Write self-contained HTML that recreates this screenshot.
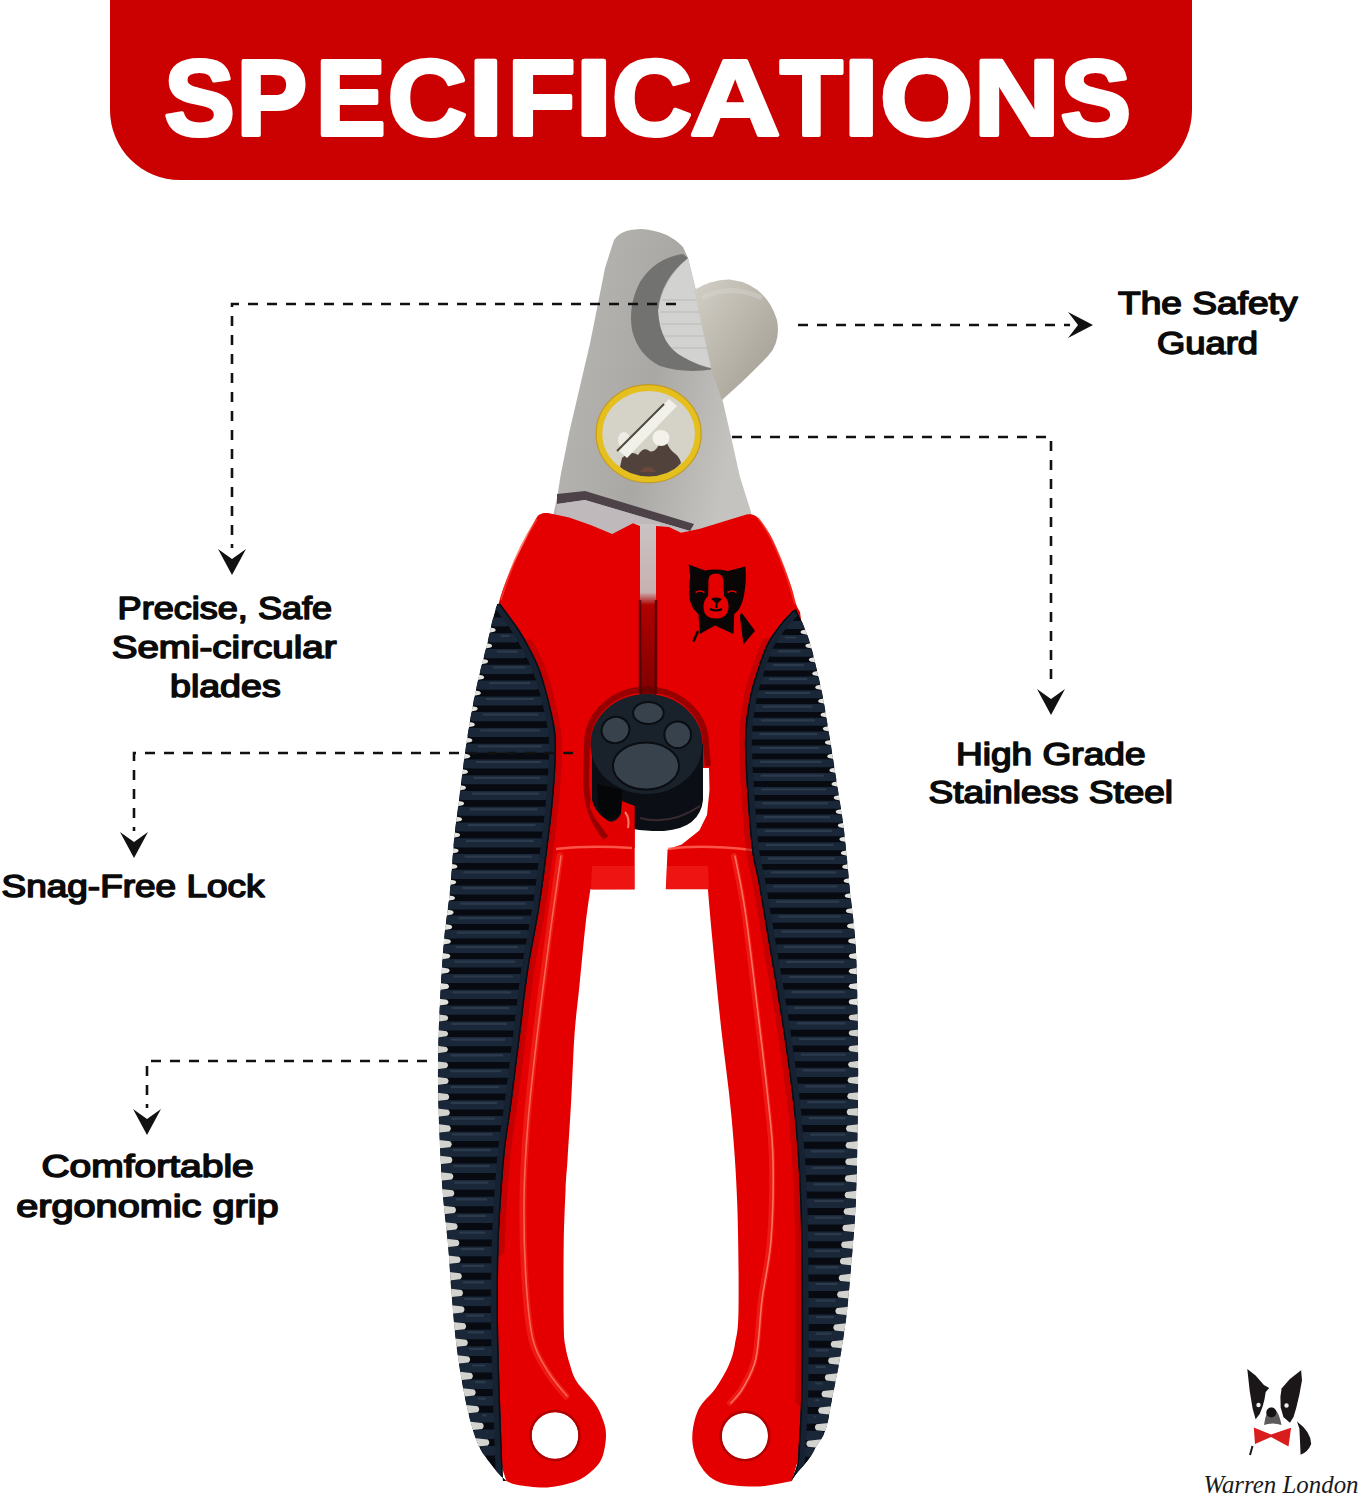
<!DOCTYPE html>
<html><head><meta charset="utf-8">
<style>
html,body{margin:0;padding:0;background:#fff;width:1361px;height:1500px;overflow:hidden}
svg{display:block}
.lb{font-family:"Liberation Sans",sans-serif;font-weight:normal;font-size:30.5px;fill:#0b0b0b;stroke:#0b0b0b;stroke-width:1.5px;stroke-linejoin:round}
</style></head>
<body>
<svg width="1361" height="1500" viewBox="0 0 1361 1500">
<defs>
  <marker id="ah" viewBox="0 0 30 28" refX="29" refY="14" markerWidth="30" markerHeight="28" markerUnits="userSpaceOnUse" orient="auto">
    <path d="M0,0 L30,14 L0,28 L8,14 Z" fill="#111"/>
  </marker>
</defs>
<rect width="1361" height="1500" fill="#fff"/>
<!-- banner -->
<path d="M110,0 H1192 V110 A70,70 0 0 1 1122,180 H180 A70,70 0 0 1 110,110 Z" fill="#cb0000"/>
<g font-family="Liberation Sans, sans-serif" font-weight="bold" font-size="107.5" fill="#fff" stroke="#fff" stroke-width="4" stroke-linejoin="round">
<text lengthAdjust="spacingAndGlyphs" x="164.3" y="135.2" textLength="70.5">S</text>
<text lengthAdjust="spacingAndGlyphs" x="236.4" y="135.2" textLength="70.6">P</text>
<text lengthAdjust="spacingAndGlyphs" x="315.8" y="135.2" textLength="69.9">E</text>
<text lengthAdjust="spacingAndGlyphs" x="387.7" y="135.2" textLength="79.3">C</text>
<text lengthAdjust="spacingAndGlyphs" x="468.6" y="135.2" textLength="34.7">I</text>
<text lengthAdjust="spacingAndGlyphs" x="507.5" y="135.2" textLength="68.0">F</text>
<text lengthAdjust="spacingAndGlyphs" x="575.1" y="135.2" textLength="37.6">I</text>
<text lengthAdjust="spacingAndGlyphs" x="612.0" y="135.2" textLength="80.1">C</text>
<text lengthAdjust="spacingAndGlyphs" x="689.9" y="135.2" textLength="90.4">A</text>
<text lengthAdjust="spacingAndGlyphs" x="779.9" y="135.2" textLength="62.7">T</text>
<text lengthAdjust="spacingAndGlyphs" x="843.3" y="135.2" textLength="35.9">I</text>
<text lengthAdjust="spacingAndGlyphs" x="880.1" y="135.2" textLength="93.3">O</text>
<text lengthAdjust="spacingAndGlyphs" x="973.7" y="135.2" textLength="86.0">N</text>
<text lengthAdjust="spacingAndGlyphs" x="1060.6" y="135.2" textLength="70.5">S</text>
</g>

<!-- labels -->
<g class="lb">
  <text x="1118" y="314.4" textLength="179.5" lengthAdjust="spacingAndGlyphs">The Safety</text>
  <text x="1157" y="354.4" textLength="101" lengthAdjust="spacingAndGlyphs">Guard</text>
  <text x="956" y="764.9" textLength="189.5" lengthAdjust="spacingAndGlyphs">High Grade</text>
  <text x="928.5" y="803.4" textLength="244.5" lengthAdjust="spacingAndGlyphs">Stainless Steel</text>
  <text x="117.6" y="619.1" textLength="214.5" lengthAdjust="spacingAndGlyphs">Precise, Safe</text>
  <text x="111.7" y="658.4" textLength="224.8" lengthAdjust="spacingAndGlyphs">Semi-circular</text>
  <text x="170" y="697.4" textLength="110.7" lengthAdjust="spacingAndGlyphs">blades</text>
  <text x="1.5" y="897.4" textLength="263" lengthAdjust="spacingAndGlyphs">Snag-Free Lock</text>
  <text x="41.4" y="1177.2" textLength="212.4" lengthAdjust="spacingAndGlyphs">Comfortable</text>
  <text x="16.2" y="1216.9" textLength="262.5" lengthAdjust="spacingAndGlyphs">ergonomic grip</text>
</g>


<defs>
  <linearGradient id="steel" x1="0" y1="0" x2="1" y2="0.3">
    <stop offset="0" stop-color="#8f8e8a"/><stop offset="0.25" stop-color="#b3b2ae"/><stop offset="0.6" stop-color="#a9a8a4"/><stop offset="1" stop-color="#c4c3bf"/>
  </linearGradient>
  <linearGradient id="guard" x1="0" y1="0" x2="1" y2="1">
    <stop offset="0" stop-color="#d2cfc6"/><stop offset="0.5" stop-color="#b9b5ab"/><stop offset="1" stop-color="#9d998f"/>
  </linearGradient>
  <radialGradient id="dome" cx="0.5" cy="0.6" r="0.6">
    <stop offset="0" stop-color="#5a4f45"/><stop offset="0.35" stop-color="#b8b2a6"/><stop offset="0.7" stop-color="#e8e6e0"/><stop offset="1" stop-color="#9a958b"/>
  </radialGradient>
  <linearGradient id="redL" x1="0" y1="0" x2="1" y2="0">
    <stop offset="0" stop-color="#e40000"/><stop offset="1" stop-color="#e40000"/>
  </linearGradient>
  <linearGradient id="slot" x1="0" y1="0" x2="0" y2="1">
    <stop offset="0" stop-color="#c9c3c3"/><stop offset="0.38" stop-color="#c8b0b0"/><stop offset="0.45" stop-color="#b00000"/><stop offset="1" stop-color="#7a0000"/>
  </linearGradient>
  <clipPath id="lgc"><path d="M497.0,604.0 C496.2,607.0 493.5,616.0 492.0,622.0 C490.5,628.0 490.3,630.3 488.0,640.0 C485.7,649.7 481.0,666.7 478.0,680.0 C475.0,693.3 472.3,706.7 470.0,720.0 C467.7,733.3 465.8,746.7 464.0,760.0 C462.2,773.3 460.7,786.7 459.0,800.0 C457.3,813.3 455.5,825.0 454.0,840.0 C452.5,855.0 451.7,873.3 450.0,890.0 C448.3,906.7 445.7,921.7 444.0,940.0 C442.3,958.3 441.0,980.0 440.0,1000.0 C439.0,1020.0 438.2,1040.8 438.0,1060.0 C437.8,1079.2 438.0,1093.5 438.7,1115.0 C439.4,1136.5 440.8,1167.3 442.4,1189.0 C443.9,1210.7 446.4,1226.5 448.0,1245.0 C449.6,1263.5 450.5,1282.5 452.0,1300.0 C453.5,1317.5 454.7,1332.8 457.0,1350.0 C459.3,1367.2 462.9,1388.3 466.0,1403.0 C469.1,1417.7 472.5,1429.3 475.5,1438.0 C478.5,1446.7 480.2,1449.2 484.0,1455.0 C487.8,1460.8 494.2,1468.7 498.0,1473.0 C501.8,1477.3 505.1,1479.7 506.5,1481.0 L503.0,1481.0 C502.5,1467.5 500.8,1426.8 500.0,1400.0 C499.2,1373.2 498.2,1345.0 498.0,1320.0 C497.8,1295.0 498.0,1270.0 498.5,1250.0 C499.0,1230.0 499.9,1216.7 501.0,1200.0 C502.1,1183.3 503.2,1166.7 505.0,1150.0 C506.8,1133.3 509.5,1119.0 512.0,1100.0 C514.5,1081.0 517.3,1057.3 520.0,1036.0 C522.7,1014.7 524.8,993.0 528.0,972.0 C531.2,951.0 536.0,928.7 539.0,910.0 C542.0,891.3 543.7,878.3 546.0,860.0 C548.3,841.7 551.3,819.2 553.0,800.0 C554.7,780.8 556.2,759.3 556.0,745.0 C555.8,730.7 554.6,726.2 552.0,714.0 C549.4,701.8 544.5,683.2 540.5,671.7 C536.5,660.2 532.0,652.7 528.0,645.0 C524.0,637.3 521.0,632.5 516.3,625.6 C511.6,618.7 502.7,607.2 500.0,603.5 Z"/></clipPath><clipPath id="rgc"><path d="M796.0,608.8 C797.3,611.7 801.6,620.5 804.0,626.4 C806.4,632.3 808.3,636.8 810.4,644.0 C812.5,651.2 814.7,660.5 816.8,669.6 C818.9,678.7 821.1,687.2 823.2,698.4 C825.3,709.6 827.1,721.5 829.6,736.8 C832.1,752.1 835.6,774.5 838.0,790.0 C840.4,805.5 842.0,813.3 844.0,830.0 C846.0,846.7 848.0,870.0 850.0,890.0 C852.0,910.0 854.7,925.0 856.0,950.0 C857.3,975.0 857.7,1015.0 858.0,1040.0 C858.3,1065.0 858.3,1073.3 858.0,1100.0 C857.7,1126.7 857.3,1170.0 856.0,1200.0 C854.7,1230.0 851.7,1260.0 850.0,1280.0 C848.3,1300.0 847.7,1306.7 846.0,1320.0 C844.3,1333.3 842.0,1347.5 839.8,1360.0 C837.6,1372.5 835.2,1383.2 832.9,1394.7 C830.6,1406.2 828.8,1420.3 826.0,1429.0 C823.2,1437.7 819.3,1441.5 816.4,1446.6 C813.5,1451.7 811.8,1455.3 808.6,1459.7 C805.4,1464.1 800.1,1469.2 797.3,1472.7 C794.4,1476.2 792.5,1479.2 791.5,1480.5 L791.5,1480.5 C792.5,1477.8 796.0,1470.8 797.3,1464.0 C798.5,1457.2 798.4,1450.7 799.0,1440.0 C799.6,1429.3 800.5,1420.0 801.0,1400.0 C801.5,1380.0 801.8,1352.9 801.7,1320.0 C801.6,1287.1 801.5,1236.9 800.3,1202.7 C799.1,1168.5 797.3,1144.0 794.4,1114.7 C791.5,1085.4 787.1,1056.0 782.7,1026.7 C778.3,997.4 772.1,963.2 768.0,938.7 C763.9,914.2 760.7,894.8 758.0,880.0 C755.3,865.2 753.8,865.0 752.0,850.0 C750.2,835.0 748.2,808.8 747.0,790.0 C745.8,771.2 744.6,752.3 745.0,737.0 C745.4,721.7 747.5,709.6 749.6,698.4 C751.7,687.2 754.7,678.7 757.6,669.6 C760.5,660.5 763.5,651.5 767.2,644.0 C770.9,636.5 775.7,630.4 780.0,624.8 C784.3,619.2 790.7,612.8 792.8,610.4 Z"/></clipPath>
</defs>
<g id="clipper">
  <!-- steel blade -->
  <path d="M614,240 Q621,229 642,229 Q668,231 683,247 L688,258 L716,372 L731.2,437.6 L739.7,476 L751,512 L756,540 L548,540 L557.6,495 L560.5,476 L569.3,432 L579.6,388 L589.9,344 L598.7,300 L605,268 Z" fill="url(#steel)"/>
  <path d="M688,258 Q662,280 658,311 Q660,345 683,357 Q700,366 714,368 Z" fill="#d2d2d0"/>
  <g stroke="#b9b9b7" stroke-width="1.2">
    <path d="M662,300 H700"/><path d="M660,312 H703"/><path d="M661,324 H706"/><path d="M664,336 H709"/><path d="M672,348 H712"/>
  </g>
  <path d="M683,254 Q655,258 640,282 Q628,305 632,330 Q638,355 660,366 Q685,374 714,369 Q698,366 683,357 Q660,345 658,311 Q660,280 688,258 Z" fill="#727271"/>
  <!-- safety guard -->
  <path d="M694,290 Q712,279 730,279.5 Q766,284 777,320 Q781,342 768,356 Q745,380 722,400 L712,372 Z" fill="url(#guard)"/>
  <path d="M702,298 Q730,283 762,298" stroke="#dcdad4" stroke-width="5" fill="none" opacity="0.35"/>
  <!-- screw -->
  <ellipse cx="648.6" cy="433.7" rx="49.5" ry="46" fill="#d5d2c8"/>
  <path d="M622,458 Q631,450 638,455 Q643,447 648,450 Q652,454 657,448 Q662,440 664,434 Q667,447 673,452 Q680,457 681,463 Q668,478 648,479 Q629,477 620,467 Z" fill="#3a2a22" opacity="0.85"/>
  <path d="M640,472 Q648,462 656,472 Z" fill="#7a4a3a" opacity="0.7"/>
  <ellipse cx="661" cy="438" rx="8.5" ry="8" fill="#f3f1ea"/>
  <ellipse cx="624" cy="440" rx="6" ry="8" fill="#ecebe4"/>
  <path d="M669,399 L677,406 L627,458 L619,451 Z" fill="#f1f0e9"/>
  <path d="M664,404 L617,451" stroke="#4e493c" stroke-width="2"/>
  <ellipse cx="648.6" cy="433.7" rx="49.5" ry="46" fill="none" stroke="#e4bf1e" stroke-width="6.5"/>
  <ellipse cx="648.6" cy="433.7" rx="52.5" ry="49" fill="none" stroke="#b98e18" stroke-width="1.2" opacity="0.7"/>
  <!-- blade lower dark edge -->
  <path d="M557,494 L585,491 L694,524 L690,531 L585,500 L557,504 Z" fill="#4d4247"/>
  <path d="M557,504 L585,500 L690,531 L660,545 L552,545 Z" fill="#bfb9bb"/>
  <!-- slot -->
  <rect x="636" y="524" width="24" height="180" fill="url(#slot)"/>
  <!-- red handles -->
  <path d="M498.7,603.5 C499.4,601.1 500.8,595.2 503.0,589.2 C505.2,583.2 508.6,574.6 511.9,567.2 C515.2,559.8 518.9,553.1 522.9,545.0 C526.9,536.9 532.9,523.9 536.0,518.7 C539.1,513.5 539.6,514.7 541.6,513.7 C543.6,512.8 546.9,513.1 548.0,513.0 L569.2,517.6 L591.2,525.3 L612.2,534.0 L633.0,523.3 L640.0,526.0 L640.0,700.0 L650.0,700.0 L650.0,807.0 L634.7,807.0 L634.7,889.5 L592.0,889.5 L590.4,889.0 C589.6,894.8 587.5,907.5 585.6,924.0 C583.7,940.5 581.1,969.3 579.2,988.0 C577.3,1006.7 575.7,1017.3 574.4,1036.0 C573.1,1054.7 572.4,1079.3 571.2,1100.0 C570.1,1120.7 568.4,1145.2 567.5,1160.0 C566.6,1174.8 566.2,1174.8 565.6,1189.0 C565.0,1203.2 564.0,1223.2 563.7,1245.0 C563.4,1266.8 563.5,1303.5 563.7,1320.0 C563.9,1336.5 564.0,1336.5 565.0,1344.0 C566.0,1351.5 568.0,1358.7 570.0,1365.0 C572.0,1371.3 572.9,1375.7 577.0,1382.0 C581.1,1388.3 590.3,1396.7 594.6,1403.0 C598.9,1409.3 601.1,1414.7 603.0,1420.0 C604.9,1425.3 606.0,1429.2 606.0,1435.0 C606.0,1440.8 604.8,1449.5 603.0,1455.0 C601.2,1460.5 599.3,1463.7 595.0,1468.0 C590.7,1472.3 584.9,1477.5 577.0,1480.7 C569.1,1483.9 557.4,1486.7 547.6,1487.4 C537.8,1488.1 524.9,1486.1 518.0,1485.0 C511.1,1483.9 508.3,1481.7 506.4,1481.0 L480,1400 L470,1000 L480,700 Z" fill="url(#redL)"/>
  <path d="M656.0,526.0 L669.0,527.0 L681.0,532.7 L700.0,528.7 L746.4,514.4 L746.4,514.4 C747.3,514.4 750.1,514.0 752.0,514.5 C753.9,515.0 755.4,515.5 757.6,517.6 C759.8,519.7 762.6,523.5 765.0,527.0 C767.4,530.5 769.2,532.8 772.0,538.4 C774.8,544.0 778.4,552.8 781.6,560.8 C784.8,568.8 788.8,579.2 791.2,586.4 C793.6,593.6 794.5,599.7 796.0,604.0 C797.5,608.3 799.3,610.7 800.0,612.0 L812,700 L835,1000 L815,1400 L792.0,1481.0 C785.9,1481.9 767.7,1486.4 755.5,1486.6 C743.3,1486.8 728.0,1485.6 718.8,1482.0 C709.5,1478.4 704.4,1472.1 700.0,1465.0 C695.6,1457.9 692.6,1448.8 692.3,1439.6 C692.0,1430.4 694.3,1418.6 698.2,1410.0 C702.1,1401.4 710.7,1395.5 715.8,1388.0 C720.9,1380.5 725.8,1372.0 729.0,1364.7 C732.2,1357.4 733.4,1353.1 735.0,1344.0 C736.6,1334.9 738.1,1333.5 738.5,1310.0 C738.9,1286.5 738.4,1235.2 737.2,1202.7 C736.0,1170.2 734.0,1144.0 731.3,1114.7 C728.6,1085.4 724.2,1056.0 721.0,1026.7 C717.8,997.4 714.5,961.6 712.3,938.7 C710.1,915.8 708.6,897.5 707.9,889.3 L665.8,889.3 L667.6,849.3 L681.7,844.6 L699.3,830.5 L707.0,815.0 L709.5,790.0 L709.0,768.0 L656.0,768.0 L656.0,700.0 Z" fill="#e40000"/>
  <!-- holes -->
  <circle cx="555" cy="1435.5" r="23.5" fill="#fff"/>
  <circle cx="744.9" cy="1436" r="23.3" fill="#fff"/>



  <path d="M501,600 C508,575 520,545 537,519" stroke="#ff4030" stroke-width="2" fill="none" opacity="0.7"/>
  <path d="M758,518 C772,536 785,566 795,604" stroke="#ff4030" stroke-width="2" fill="none" opacity="0.6"/>
  <path d="M640,600 L640,694 M656,600 L656,694" stroke="#300000" stroke-width="2.5" opacity="0.7"/>
  <!-- feet shading -->
  <path d="M556,849 Q590,845 632,848" stroke="#ff6a5a" stroke-width="2.5" fill="none" opacity="0.8"/>
  <path d="M592,866 L634,866 L634.5,889 L591,889.5 Z" fill="#ff3a30" opacity="0.35"/>
  <path d="M668,849 Q700,844 752,850" stroke="#ff6a5a" stroke-width="2.5" fill="none" opacity="0.8"/>
  <path d="M667,866 L708,866 L709,889 L666,889 Z" fill="#ff3a30" opacity="0.35"/>
  <!-- arm highlights -->
  <g fill="none" stroke-linecap="round">
    <path d="M560.0,856.0 C558.2,869.0 552.8,905.3 549.0,934.0 C545.2,962.7 540.7,996.7 537.0,1028.0 C533.3,1059.3 529.3,1093.3 527.0,1122.0 C524.7,1150.7 523.3,1173.7 523.0,1200.0 C522.7,1226.3 523.5,1256.7 525.0,1280.0 C526.5,1303.3 528.2,1324.5 532.0,1340.0 C535.8,1355.5 542.3,1363.7 548.0,1373.0 C553.7,1382.3 563.0,1392.2 566.0,1396.0" stroke="#ff4a3a" stroke-width="7" opacity="0.35"/>
    <path d="M561.0,856.0 C559.2,869.0 553.8,905.3 550.0,934.0 C546.2,962.7 541.7,996.7 538.0,1028.0 C534.3,1059.3 530.3,1093.3 528.0,1122.0 C525.7,1150.7 524.3,1173.7 524.0,1200.0 C523.7,1226.3 524.5,1256.7 526.0,1280.0 C527.5,1303.3 529.2,1324.5 533.0,1340.0 C536.8,1355.5 543.3,1363.7 549.0,1373.0 C554.7,1382.3 564.0,1392.2 567.0,1396.0" stroke="#ff7060" stroke-width="1.6" opacity="0.85"/>
    <path d="M734.0,856.0 C735.7,865.0 740.3,885.2 744.0,910.0 C747.7,934.8 752.2,973.5 756.0,1005.0 C759.8,1036.5 764.3,1073.2 767.0,1099.0 C769.7,1124.8 771.5,1136.5 772.0,1160.0 C772.5,1183.5 771.8,1216.7 770.0,1240.0 C768.2,1263.3 763.5,1280.3 761.0,1300.0 C758.5,1319.7 758.2,1343.3 755.0,1358.0 C751.8,1372.7 746.2,1380.5 742.0,1388.0 C737.8,1395.5 732.0,1400.5 730.0,1403.0" stroke="#ff4a3a" stroke-width="6" opacity="0.35"/>
    <path d="M735.0,856.0 C736.7,865.0 741.3,885.2 745.0,910.0 C748.7,934.8 753.2,973.5 757.0,1005.0 C760.8,1036.5 765.3,1073.2 768.0,1099.0 C770.7,1124.8 772.5,1136.5 773.0,1160.0 C773.5,1183.5 772.8,1216.7 771.0,1240.0 C769.2,1263.3 764.5,1280.3 762.0,1300.0 C759.5,1319.7 759.2,1343.3 756.0,1358.0 C752.8,1372.7 747.2,1380.5 743.0,1388.0 C738.8,1395.5 733.0,1400.5 731.0,1403.0" stroke="#ff8070" stroke-width="1.6" opacity="0.85"/>
  </g>
  <circle cx="555" cy="1435.5" r="24.5" fill="none" stroke="#b00000" stroke-width="2.5"/>
  <circle cx="744.9" cy="1436" r="24.3" fill="none" stroke="#b00000" stroke-width="2.5"/>
  <path d="M528.0,645.0 C530.1,649.5 536.5,660.2 540.5,671.7 C544.5,683.2 549.4,701.8 552.0,714.0 C554.6,726.2 555.8,730.7 556.0,745.0 C556.2,759.3 554.7,780.8 553.0,800.0 C551.3,819.2 548.3,841.7 546.0,860.0 C543.7,878.3 542.0,891.3 539.0,910.0 C536.0,928.7 531.2,951.0 528.0,972.0 C524.8,993.0 522.7,1014.7 520.0,1036.0 C517.3,1057.3 514.5,1081.0 512.0,1100.0 C509.5,1119.0 506.8,1133.3 505.0,1150.0 C503.2,1166.7 502.1,1183.3 501.0,1200.0 C499.9,1216.7 498.9,1241.7 498.5,1250.0" fill="none" stroke="#a00000" stroke-width="12" opacity="0.45" stroke-linecap="round"/>
  <path d="M767.2,644.0 C765.6,648.3 760.5,660.5 757.6,669.6 C754.7,678.7 751.7,687.2 749.6,698.4 C747.5,709.6 745.4,721.7 745.0,737.0 C744.6,752.3 745.8,771.2 747.0,790.0 C748.2,808.8 750.2,835.0 752.0,850.0 C753.8,865.0 755.3,865.2 758.0,880.0 C760.7,894.8 763.9,914.2 768.0,938.7 C772.1,963.2 778.3,997.4 782.7,1026.7 C787.1,1056.0 791.5,1085.4 794.4,1114.7 C797.3,1144.0 799.1,1168.5 800.3,1202.7 C801.5,1236.9 801.6,1287.1 801.7,1320.0 C801.8,1352.9 801.1,1386.7 801.0,1400.0" fill="none" stroke="#a00000" stroke-width="12" opacity="0.45" stroke-linecap="round"/>
  <g clip-path="url(#lgc)"><path d="M497.0,604.0 C496.2,607.0 493.5,616.0 492.0,622.0 C490.5,628.0 490.3,630.3 488.0,640.0 C485.7,649.7 481.0,666.7 478.0,680.0 C475.0,693.3 472.3,706.7 470.0,720.0 C467.7,733.3 465.8,746.7 464.0,760.0 C462.2,773.3 460.7,786.7 459.0,800.0 C457.3,813.3 455.5,825.0 454.0,840.0 C452.5,855.0 451.7,873.3 450.0,890.0 C448.3,906.7 445.7,921.7 444.0,940.0 C442.3,958.3 441.0,980.0 440.0,1000.0 C439.0,1020.0 438.2,1040.8 438.0,1060.0 C437.8,1079.2 438.0,1093.5 438.7,1115.0 C439.4,1136.5 440.8,1167.3 442.4,1189.0 C443.9,1210.7 446.4,1226.5 448.0,1245.0 C449.6,1263.5 450.5,1282.5 452.0,1300.0 C453.5,1317.5 454.7,1332.8 457.0,1350.0 C459.3,1367.2 462.9,1388.3 466.0,1403.0 C469.1,1417.7 472.5,1429.3 475.5,1438.0 C478.5,1446.7 480.2,1449.2 484.0,1455.0 C487.8,1460.8 494.2,1468.7 498.0,1473.0 C501.8,1477.3 505.1,1479.7 506.5,1481.0 L503.0,1481.0 C502.5,1467.5 500.8,1426.8 500.0,1400.0 C499.2,1373.2 498.2,1345.0 498.0,1320.0 C497.8,1295.0 498.0,1270.0 498.5,1250.0 C499.0,1230.0 499.9,1216.7 501.0,1200.0 C502.1,1183.3 503.2,1166.7 505.0,1150.0 C506.8,1133.3 509.5,1119.0 512.0,1100.0 C514.5,1081.0 517.3,1057.3 520.0,1036.0 C522.7,1014.7 524.8,993.0 528.0,972.0 C531.2,951.0 536.0,928.7 539.0,910.0 C542.0,891.3 543.7,878.3 546.0,860.0 C548.3,841.7 551.3,819.2 553.0,800.0 C554.7,780.8 556.2,759.3 556.0,745.0 C555.8,730.7 554.6,726.2 552.0,714.0 C549.4,701.8 544.5,683.2 540.5,671.7 C536.5,660.2 532.0,652.7 528.0,645.0 C524.0,637.3 521.0,632.5 516.3,625.6 C511.6,618.7 502.7,607.2 500.0,603.5 Z" fill="#070b11"/>
<rect x="490.0" y="617.5" width="19.8" height="9.1" fill="#1a2738" rx="4.6"/>
<rect x="504.0" y="619.0" width="0.0" height="2.2" fill="#2c3b4b" rx="1"/>
<rect x="486.5" y="633.3" width="33.2" height="9.1" fill="#1a2738" rx="4.6"/>
<rect x="500.5" y="634.8" width="9.2" height="2.2" fill="#2c3b4b" rx="1"/>
<rect x="482.6" y="649.1" width="45.5" height="9.1" fill="#1a2738" rx="4.6"/>
<rect x="496.6" y="650.6" width="21.5" height="2.2" fill="#2c3b4b" rx="1"/>
<rect x="478.6" y="664.8" width="56.8" height="9.1" fill="#1a2738" rx="4.6"/>
<rect x="492.6" y="666.3" width="32.8" height="2.2" fill="#2c3b4b" rx="1"/>
<rect x="475.0" y="680.6" width="65.2" height="9.1" fill="#1a2738" rx="4.6"/>
<rect x="489.0" y="682.1" width="41.2" height="2.2" fill="#2c3b4b" rx="1"/>
<rect x="471.8" y="696.4" width="72.6" height="9.1" fill="#1a2738" rx="4.6"/>
<rect x="485.8" y="697.9" width="48.6" height="2.2" fill="#2c3b4b" rx="1"/>
<rect x="468.7" y="712.1" width="79.7" height="9.1" fill="#1a2738" rx="4.6"/>
<rect x="482.7" y="713.6" width="55.7" height="2.2" fill="#2c3b4b" rx="1"/>
<rect x="466.1" y="727.9" width="84.3" height="9.1" fill="#1a2738" rx="4.6"/>
<rect x="480.1" y="729.4" width="60.3" height="2.2" fill="#2c3b4b" rx="1"/>
<rect x="463.8" y="743.7" width="88.1" height="9.1" fill="#1a2738" rx="4.6"/>
<rect x="477.8" y="745.2" width="64.1" height="2.2" fill="#2c3b4b" rx="1"/>
<rect x="461.5" y="759.4" width="89.5" height="9.1" fill="#1a2738" rx="4.6"/>
<rect x="475.5" y="760.9" width="65.5" height="2.2" fill="#2c3b4b" rx="1"/>
<rect x="459.5" y="775.2" width="90.6" height="9.1" fill="#1a2738" rx="4.6"/>
<rect x="473.5" y="776.7" width="66.6" height="2.2" fill="#2c3b4b" rx="1"/>
<rect x="457.6" y="791.0" width="91.7" height="9.1" fill="#1a2738" rx="4.6"/>
<rect x="471.6" y="792.5" width="67.7" height="2.2" fill="#2c3b4b" rx="1"/>
<rect x="455.6" y="806.7" width="92.1" height="9.1" fill="#1a2738" rx="4.6"/>
<rect x="469.6" y="808.2" width="68.1" height="2.2" fill="#2c3b4b" rx="1"/>
<rect x="453.6" y="822.5" width="92.2" height="9.1" fill="#1a2738" rx="4.6"/>
<rect x="467.6" y="824.0" width="68.2" height="2.2" fill="#2c3b4b" rx="1"/>
<rect x="451.8" y="838.3" width="92.2" height="9.1" fill="#1a2738" rx="4.6"/>
<rect x="465.8" y="839.8" width="68.2" height="2.2" fill="#2c3b4b" rx="1"/>
<rect x="450.5" y="854.0" width="91.7" height="9.1" fill="#1a2738" rx="4.6"/>
<rect x="464.5" y="855.5" width="67.7" height="2.2" fill="#2c3b4b" rx="1"/>
<rect x="449.3" y="869.8" width="90.7" height="9.1" fill="#1a2738" rx="4.6"/>
<rect x="463.3" y="871.3" width="66.7" height="2.2" fill="#2c3b4b" rx="1"/>
<rect x="448.0" y="885.5" width="89.8" height="9.1" fill="#1a2738" rx="4.6"/>
<rect x="462.0" y="887.0" width="65.8" height="2.2" fill="#2c3b4b" rx="1"/>
<rect x="446.2" y="901.0" width="89.5" height="8.4" fill="#1a2738" rx="4.2"/>
<rect x="460.2" y="902.5" width="65.5" height="2.2" fill="#2c3b4b" rx="1"/>
<rect x="444.4" y="915.6" width="88.8" height="8.4" fill="#1a2738" rx="4.2"/>
<rect x="458.4" y="917.1" width="64.8" height="2.2" fill="#2c3b4b" rx="1"/>
<rect x="442.7" y="930.1" width="88.0" height="8.4" fill="#1a2738" rx="4.2"/>
<rect x="456.7" y="931.6" width="64.0" height="2.2" fill="#2c3b4b" rx="1"/>
<rect x="441.4" y="944.6" width="86.7" height="8.4" fill="#1a2738" rx="4.2"/>
<rect x="455.4" y="946.1" width="62.7" height="2.2" fill="#2c3b4b" rx="1"/>
<rect x="440.4" y="959.1" width="85.1" height="8.4" fill="#1a2738" rx="4.2"/>
<rect x="454.4" y="960.6" width="61.1" height="2.2" fill="#2c3b4b" rx="1"/>
<rect x="439.4" y="973.9" width="83.8" height="9.2" fill="#1a2738" rx="4.6"/>
<rect x="453.4" y="975.4" width="59.8" height="2.2" fill="#2c3b4b" rx="1"/>
<rect x="438.4" y="989.7" width="82.8" height="9.2" fill="#1a2738" rx="4.6"/>
<rect x="452.4" y="991.2" width="58.8" height="2.2" fill="#2c3b4b" rx="1"/>
<rect x="437.7" y="1005.5" width="81.6" height="9.2" fill="#1a2738" rx="4.6"/>
<rect x="451.7" y="1007.0" width="57.6" height="2.2" fill="#2c3b4b" rx="1"/>
<rect x="437.1" y="1021.3" width="80.1" height="9.2" fill="#1a2738" rx="4.6"/>
<rect x="451.1" y="1022.8" width="56.1" height="2.2" fill="#2c3b4b" rx="1"/>
<rect x="436.6" y="1037.0" width="78.7" height="9.2" fill="#1a2738" rx="4.6"/>
<rect x="450.6" y="1038.5" width="54.7" height="2.2" fill="#2c3b4b" rx="1"/>
<rect x="436.1" y="1052.8" width="77.2" height="9.2" fill="#1a2738" rx="4.6"/>
<rect x="450.1" y="1054.3" width="53.2" height="2.2" fill="#2c3b4b" rx="1"/>
<rect x="436.2" y="1068.6" width="75.2" height="9.2" fill="#1a2738" rx="4.6"/>
<rect x="450.2" y="1070.1" width="51.2" height="2.2" fill="#2c3b4b" rx="1"/>
<rect x="436.4" y="1084.4" width="73.0" height="9.2" fill="#1a2738" rx="4.6"/>
<rect x="450.4" y="1085.9" width="49.0" height="2.2" fill="#2c3b4b" rx="1"/>
<rect x="436.6" y="1100.2" width="70.8" height="9.2" fill="#1a2738" rx="4.6"/>
<rect x="450.6" y="1101.7" width="46.8" height="2.2" fill="#2c3b4b" rx="1"/>
<rect x="437.0" y="1116.0" width="68.1" height="9.2" fill="#1a2738" rx="4.6"/>
<rect x="451.0" y="1117.5" width="44.1" height="2.2" fill="#2c3b4b" rx="1"/>
<rect x="437.8" y="1131.7" width="65.1" height="9.2" fill="#1a2738" rx="4.6"/>
<rect x="451.8" y="1133.2" width="41.1" height="2.2" fill="#2c3b4b" rx="1"/>
<rect x="438.6" y="1147.5" width="62.3" height="9.2" fill="#1a2738" rx="4.6"/>
<rect x="452.6" y="1149.0" width="38.3" height="2.2" fill="#2c3b4b" rx="1"/>
<rect x="439.4" y="1163.5" width="60.2" height="9.6" fill="#1a2738" rx="4.8"/>
<rect x="453.4" y="1165.0" width="36.2" height="2.2" fill="#2c3b4b" rx="1"/>
<rect x="440.2" y="1180.1" width="58.0" height="9.6" fill="#1a2738" rx="4.8"/>
<rect x="454.2" y="1181.6" width="34.0" height="2.2" fill="#2c3b4b" rx="1"/>
<rect x="441.7" y="1196.7" width="55.3" height="9.6" fill="#1a2738" rx="4.8"/>
<rect x="455.7" y="1198.2" width="31.3" height="2.2" fill="#2c3b4b" rx="1"/>
<rect x="443.3" y="1213.3" width="52.8" height="9.6" fill="#1a2738" rx="4.8"/>
<rect x="457.3" y="1214.8" width="28.8" height="2.2" fill="#2c3b4b" rx="1"/>
<rect x="445.0" y="1230.0" width="50.3" height="9.6" fill="#1a2738" rx="4.8"/>
<rect x="459.0" y="1231.5" width="26.3" height="2.2" fill="#2c3b4b" rx="1"/>
<rect x="446.5" y="1246.6" width="48.0" height="9.6" fill="#1a2738" rx="4.8"/>
<rect x="460.5" y="1248.1" width="24.0" height="2.2" fill="#2c3b4b" rx="1"/>
<rect x="447.7" y="1263.2" width="46.7" height="9.6" fill="#1a2738" rx="4.8"/>
<rect x="461.7" y="1264.7" width="22.7" height="2.2" fill="#2c3b4b" rx="1"/>
<rect x="448.9" y="1279.8" width="45.4" height="9.6" fill="#1a2738" rx="4.8"/>
<rect x="462.9" y="1281.3" width="21.4" height="2.2" fill="#2c3b4b" rx="1"/>
<rect x="450.1" y="1296.4" width="44.0" height="9.6" fill="#1a2738" rx="4.8"/>
<rect x="464.1" y="1297.9" width="20.0" height="2.2" fill="#2c3b4b" rx="1"/>
<rect x="451.8" y="1313.0" width="42.2" height="9.6" fill="#1a2738" rx="4.8"/>
<rect x="465.8" y="1314.5" width="18.2" height="2.2" fill="#2c3b4b" rx="1"/>
<rect x="453.4" y="1329.7" width="40.9" height="9.6" fill="#1a2738" rx="4.8"/>
<rect x="467.4" y="1331.2" width="16.9" height="2.2" fill="#2c3b4b" rx="1"/>
<rect x="455.2" y="1346.3" width="39.6" height="9.6" fill="#1a2738" rx="4.8"/>
<rect x="469.2" y="1347.8" width="15.6" height="2.2" fill="#2c3b4b" rx="1"/>
<rect x="458.0" y="1362.9" width="37.2" height="9.6" fill="#1a2738" rx="4.8"/>
<rect x="472.0" y="1364.4" width="13.2" height="2.2" fill="#2c3b4b" rx="1"/>
<rect x="460.8" y="1379.5" width="34.8" height="9.6" fill="#1a2738" rx="4.8"/>
<rect x="474.8" y="1381.0" width="10.8" height="2.2" fill="#2c3b4b" rx="1"/>
<rect x="463.7" y="1396.1" width="32.4" height="9.6" fill="#1a2738" rx="4.8"/>
<rect x="477.7" y="1397.6" width="8.4" height="2.2" fill="#2c3b4b" rx="1"/>
<rect x="468.0" y="1412.8" width="28.7" height="9.6" fill="#1a2738" rx="4.8"/>
<rect x="482.0" y="1414.3" width="4.7" height="2.2" fill="#2c3b4b" rx="1"/>
<rect x="472.5" y="1429.4" width="24.8" height="9.6" fill="#1a2738" rx="4.8"/>
<rect x="486.5" y="1430.9" width="0.8" height="2.2" fill="#2c3b4b" rx="1"/>
<rect x="479.9" y="1446.0" width="18.0" height="9.6" fill="#1a2738" rx="4.8"/>
<rect x="493.9" y="1447.5" width="0.0" height="2.2" fill="#2c3b4b" rx="1"/>
<path d="M486.2,626.8 L494.2,628.2 Q497.2,630.0 494.2,631.8 L486.2,633.2 Z" fill="#e2e2df"/>
<path d="M482.6,642.5 L490.6,644.0 Q493.6,645.8 490.6,647.5 L482.6,649.0 Z" fill="#e2e2df"/>
<path d="M478.6,658.3 L486.6,659.8 Q489.6,661.5 486.6,663.3 L478.6,664.8 Z" fill="#e2e2df"/>
<path d="M474.7,674.0 L482.7,675.5 Q485.7,677.3 482.7,679.0 L474.7,680.5 Z" fill="#e2e2df"/>
<path d="M471.4,689.8 L479.4,691.3 Q482.4,693.1 479.4,694.8 L471.4,696.3 Z" fill="#e2e2df"/>
<path d="M468.2,705.6 L476.2,707.1 Q479.2,708.8 476.2,710.6 L468.2,712.1 Z" fill="#e2e2df"/>
<path d="M465.3,721.3 L473.3,722.8 Q476.3,724.6 473.3,726.3 L465.3,727.8 Z" fill="#e2e2df"/>
<path d="M462.9,737.1 L470.9,738.6 Q473.9,740.4 470.9,742.1 L462.9,743.6 Z" fill="#e2e2df"/>
<path d="M460.6,752.9 L468.6,754.4 Q471.6,756.1 468.6,757.9 L460.6,759.4 Z" fill="#e2e2df"/>
<path d="M458.5,768.6 L466.5,770.1 Q469.5,771.9 466.5,773.6 L458.5,775.1 Z" fill="#e2e2df"/>
<path d="M456.5,784.4 L464.5,785.9 Q467.5,787.6 464.5,789.4 L456.5,790.9 Z" fill="#e2e2df"/>
<path d="M454.6,800.2 L462.6,801.7 Q465.6,803.4 462.6,805.2 L454.6,806.7 Z" fill="#e2e2df"/>
<path d="M452.6,815.9 L460.6,817.4 Q463.6,819.2 460.6,820.9 L452.6,822.4 Z" fill="#e2e2df"/>
<path d="M450.6,831.7 L458.6,833.2 Q461.6,834.9 458.6,836.7 L450.6,838.2 Z" fill="#e2e2df"/>
<path d="M449.1,847.5 L457.1,849.0 Q460.1,850.7 457.1,852.5 L449.1,854.0 Z" fill="#e2e2df"/>
<path d="M447.9,863.2 L455.9,864.7 Q458.9,866.5 455.9,868.2 L447.9,869.7 Z" fill="#e2e2df"/>
<path d="M446.6,879.0 L454.7,880.5 Q457.7,882.2 454.7,884.0 L446.6,885.5 Z" fill="#e2e2df"/>
<path d="M445.0,894.7 L453.5,896.2 Q456.5,898.0 453.5,899.8 L445.0,901.3 Z" fill="#e2e2df"/>
<path d="M443.3,909.1 L452.1,910.6 Q455.1,912.5 452.1,914.4 L443.3,915.9 Z" fill="#e2e2df"/>
<path d="M441.6,923.6 L450.7,925.1 Q453.7,927.0 450.7,929.0 L441.6,930.5 Z" fill="#e2e2df"/>
<path d="M439.9,938.0 L449.4,939.5 Q452.4,941.6 449.4,943.6 L439.9,945.1 Z" fill="#e2e2df"/>
<path d="M438.9,952.4 L448.8,953.9 Q451.8,956.1 448.8,958.2 L438.9,959.7 Z" fill="#e2e2df"/>
<path d="M438.0,966.9 L448.1,968.4 Q451.1,970.6 448.1,972.8 L438.0,974.3 Z" fill="#e2e2df"/>
<path d="M436.9,982.6 L447.5,984.1 Q450.5,986.4 447.5,988.7 L436.9,990.2 Z" fill="#e2e2df"/>
<path d="M435.9,998.3 L446.9,999.8 Q449.9,1002.2 446.9,1004.5 L435.9,1006.0 Z" fill="#e2e2df"/>
<path d="M435.4,1014.0 L446.7,1015.5 Q449.7,1018.0 446.7,1020.4 L435.4,1021.9 Z" fill="#d2d2cf"/>
<path d="M434.9,1029.7 L446.6,1031.2 Q449.6,1033.7 446.6,1036.3 L434.9,1037.8 Z" fill="#d2d2cf"/>
<path d="M434.3,1045.4 L446.4,1046.9 Q449.4,1049.5 446.4,1052.1 L434.3,1053.6 Z" fill="#d2d2cf"/>
<path d="M434.1,1061.1 L446.5,1062.6 Q449.5,1065.3 446.5,1068.0 L434.1,1069.5 Z" fill="#d2d2cf"/>
<path d="M434.3,1076.8 L447.1,1078.3 Q450.1,1081.1 447.1,1083.8 L434.3,1085.3 Z" fill="#d2d2cf"/>
<path d="M434.5,1092.5 L447.7,1094.0 Q450.7,1096.9 447.7,1099.7 L434.5,1101.2 Z" fill="#d2d2cf"/>
<path d="M434.7,1108.2 L448.3,1109.7 Q451.3,1112.7 448.3,1115.6 L434.7,1117.1 Z" fill="#d2d2cf"/>
<path d="M435.4,1123.9 L449.3,1125.4 Q452.3,1128.4 449.3,1131.4 L435.4,1132.9 Z" fill="#d2d2cf"/>
<path d="M436.2,1139.7 L450.2,1141.2 Q453.2,1144.2 450.2,1147.2 L436.2,1148.7 Z" fill="#d2d2cf"/>
<path d="M436.9,1155.5 L450.9,1157.0 Q453.9,1160.0 450.9,1163.0 L436.9,1164.5 Z" fill="#d2d2cf"/>
<path d="M437.8,1172.1 L451.8,1173.6 Q454.8,1176.6 451.8,1179.6 L437.8,1181.1 Z" fill="#d2d2cf"/>
<path d="M438.8,1188.7 L452.8,1190.2 Q455.8,1193.2 452.8,1196.2 L438.8,1197.7 Z" fill="#d2d2cf"/>
<path d="M440.5,1205.4 L454.5,1206.9 Q457.5,1209.9 454.5,1212.9 L440.5,1214.4 Z" fill="#d2d2cf"/>
<path d="M442.1,1222.0 L456.1,1223.5 Q459.1,1226.5 456.1,1229.5 L442.1,1231.0 Z" fill="#d2d2cf"/>
<path d="M443.8,1238.6 L457.8,1240.1 Q460.8,1243.1 457.8,1246.1 L443.8,1247.6 Z" fill="#d2d2cf"/>
<path d="M445.1,1255.2 L459.1,1256.7 Q462.1,1259.7 459.1,1262.7 L445.1,1264.2 Z" fill="#d2d2cf"/>
<path d="M446.3,1271.8 L460.3,1273.3 Q463.3,1276.3 460.3,1279.3 L446.3,1280.8 Z" fill="#d2d2cf"/>
<path d="M447.5,1288.4 L461.5,1289.9 Q464.5,1292.9 461.5,1295.9 L447.5,1297.4 Z" fill="#d2d2cf"/>
<path d="M449.0,1305.1 L463.0,1306.6 Q466.0,1309.6 463.0,1312.6 L449.0,1314.1 Z" fill="#d2d2cf"/>
<path d="M450.6,1321.7 L464.6,1323.2 Q467.6,1326.2 464.6,1329.2 L450.6,1330.7 Z" fill="#d2d2cf"/>
<path d="M452.3,1338.3 L466.3,1339.8 Q469.3,1342.8 466.3,1345.8 L452.3,1347.3 Z" fill="#d2d2cf"/>
<path d="M454.6,1354.9 L468.6,1356.4 Q471.6,1359.4 468.6,1362.4 L454.6,1363.9 Z" fill="#d2d2cf"/>
<path d="M457.4,1371.5 L471.4,1373.0 Q474.4,1376.0 471.4,1379.0 L457.4,1380.5 Z" fill="#d2d2cf"/>
<path d="M460.2,1388.1 L474.2,1389.6 Q477.2,1392.6 474.2,1395.6 L460.2,1397.1 Z" fill="#d2d2cf"/>
<path d="M463.7,1404.8 L477.7,1406.3 Q480.7,1409.3 477.7,1412.3 L463.7,1413.8 Z" fill="#d2d2cf"/>
<path d="M468.2,1421.4 L482.2,1422.9 Q485.2,1425.9 482.2,1428.9 L468.2,1430.4 Z" fill="#d2d2cf"/>
<path d="M473.8,1438.0 L487.8,1439.5 Q490.8,1442.5 487.8,1445.5 L473.8,1447.0 Z" fill="#d2d2cf"/>
<path d="M500.0,603.5 C502.7,607.2 511.6,618.7 516.3,625.6 C521.0,632.5 524.0,637.3 528.0,645.0 C532.0,652.7 536.5,660.2 540.5,671.7 C544.5,683.2 549.4,701.8 552.0,714.0 C554.6,726.2 555.8,730.7 556.0,745.0 C556.2,759.3 554.7,780.8 553.0,800.0 C551.3,819.2 548.3,841.7 546.0,860.0 C543.7,878.3 542.0,891.3 539.0,910.0 C536.0,928.7 531.2,951.0 528.0,972.0 C524.8,993.0 522.7,1014.7 520.0,1036.0 C517.3,1057.3 514.5,1081.0 512.0,1100.0 C509.5,1119.0 506.8,1133.3 505.0,1150.0 C503.2,1166.7 502.1,1183.3 501.0,1200.0 C499.9,1216.7 499.0,1230.0 498.5,1250.0 C498.0,1270.0 497.8,1295.0 498.0,1320.0 C498.2,1345.0 499.2,1373.2 500.0,1400.0 C500.8,1426.8 502.5,1467.5 503.0,1481.0" fill="none" stroke="#162231" stroke-width="14"/>
<path d="M500.0,603.5 C502.7,607.2 511.6,618.7 516.3,625.6 C521.0,632.5 524.0,637.3 528.0,645.0 C532.0,652.7 536.5,660.2 540.5,671.7 C544.5,683.2 549.4,701.8 552.0,714.0 C554.6,726.2 555.8,730.7 556.0,745.0 C556.2,759.3 554.7,780.8 553.0,800.0 C551.3,819.2 548.3,841.7 546.0,860.0 C543.7,878.3 542.0,891.3 539.0,910.0 C536.0,928.7 531.2,951.0 528.0,972.0 C524.8,993.0 522.7,1014.7 520.0,1036.0 C517.3,1057.3 514.5,1081.0 512.0,1100.0 C509.5,1119.0 506.8,1133.3 505.0,1150.0 C503.2,1166.7 502.1,1183.3 501.0,1200.0 C499.9,1216.7 499.0,1230.0 498.5,1250.0 C498.0,1270.0 497.8,1295.0 498.0,1320.0 C498.2,1345.0 499.2,1373.2 500.0,1400.0 C500.8,1426.8 502.5,1467.5 503.0,1481.0" fill="none" stroke="#0a0f16" stroke-width="3"/></g>
  <g clip-path="url(#rgc)"><path d="M796.0,608.8 C797.3,611.7 801.6,620.5 804.0,626.4 C806.4,632.3 808.3,636.8 810.4,644.0 C812.5,651.2 814.7,660.5 816.8,669.6 C818.9,678.7 821.1,687.2 823.2,698.4 C825.3,709.6 827.1,721.5 829.6,736.8 C832.1,752.1 835.6,774.5 838.0,790.0 C840.4,805.5 842.0,813.3 844.0,830.0 C846.0,846.7 848.0,870.0 850.0,890.0 C852.0,910.0 854.7,925.0 856.0,950.0 C857.3,975.0 857.7,1015.0 858.0,1040.0 C858.3,1065.0 858.3,1073.3 858.0,1100.0 C857.7,1126.7 857.3,1170.0 856.0,1200.0 C854.7,1230.0 851.7,1260.0 850.0,1280.0 C848.3,1300.0 847.7,1306.7 846.0,1320.0 C844.3,1333.3 842.0,1347.5 839.8,1360.0 C837.6,1372.5 835.2,1383.2 832.9,1394.7 C830.6,1406.2 828.8,1420.3 826.0,1429.0 C823.2,1437.7 819.3,1441.5 816.4,1446.6 C813.5,1451.7 811.8,1455.3 808.6,1459.7 C805.4,1464.1 800.1,1469.2 797.3,1472.7 C794.4,1476.2 792.5,1479.2 791.5,1480.5 L791.5,1480.5 C792.5,1477.8 796.0,1470.8 797.3,1464.0 C798.5,1457.2 798.4,1450.7 799.0,1440.0 C799.6,1429.3 800.5,1420.0 801.0,1400.0 C801.5,1380.0 801.8,1352.9 801.7,1320.0 C801.6,1287.1 801.5,1236.9 800.3,1202.7 C799.1,1168.5 797.3,1144.0 794.4,1114.7 C791.5,1085.4 787.1,1056.0 782.7,1026.7 C778.3,997.4 772.1,963.2 768.0,938.7 C763.9,914.2 760.7,894.8 758.0,880.0 C755.3,865.2 753.8,865.0 752.0,850.0 C750.2,835.0 748.2,808.8 747.0,790.0 C745.8,771.2 744.6,752.3 745.0,737.0 C745.4,721.7 747.5,709.6 749.6,698.4 C751.7,687.2 754.7,678.7 757.6,669.6 C760.5,660.5 763.5,651.5 767.2,644.0 C770.9,636.5 775.7,630.4 780.0,624.8 C784.3,619.2 790.7,612.8 792.8,610.4 Z" fill="#070b11"/>
<rect x="783.8" y="621.1" width="21.6" height="8.0" fill="#1a2738" rx="4.0"/>
<rect x="793.8" y="622.6" width="0.0" height="2.2" fill="#2c3b4b" rx="1"/>
<rect x="774.6" y="634.9" width="36.0" height="8.0" fill="#1a2738" rx="4.0"/>
<rect x="784.6" y="636.4" width="12.0" height="2.2" fill="#2c3b4b" rx="1"/>
<rect x="767.9" y="648.7" width="46.7" height="8.0" fill="#1a2738" rx="4.0"/>
<rect x="777.9" y="650.2" width="22.7" height="2.2" fill="#2c3b4b" rx="1"/>
<rect x="762.7" y="662.5" width="55.3" height="8.0" fill="#1a2738" rx="4.0"/>
<rect x="772.7" y="664.0" width="31.3" height="2.2" fill="#2c3b4b" rx="1"/>
<rect x="758.6" y="676.4" width="62.6" height="8.0" fill="#1a2738" rx="4.0"/>
<rect x="768.6" y="677.9" width="38.6" height="2.2" fill="#2c3b4b" rx="1"/>
<rect x="754.8" y="690.2" width="69.5" height="8.0" fill="#1a2738" rx="4.0"/>
<rect x="764.8" y="691.7" width="45.5" height="2.2" fill="#2c3b4b" rx="1"/>
<rect x="752.5" y="704.0" width="74.3" height="8.0" fill="#1a2738" rx="4.0"/>
<rect x="762.5" y="705.5" width="50.3" height="2.2" fill="#2c3b4b" rx="1"/>
<rect x="750.8" y="717.8" width="78.3" height="8.0" fill="#1a2738" rx="4.0"/>
<rect x="760.8" y="719.3" width="54.3" height="2.2" fill="#2c3b4b" rx="1"/>
<rect x="749.2" y="731.6" width="82.2" height="8.0" fill="#1a2738" rx="4.0"/>
<rect x="759.2" y="733.1" width="58.2" height="2.2" fill="#2c3b4b" rx="1"/>
<rect x="749.5" y="745.4" width="84.1" height="8.0" fill="#1a2738" rx="4.0"/>
<rect x="759.5" y="746.9" width="60.1" height="2.2" fill="#2c3b4b" rx="1"/>
<rect x="750.0" y="759.3" width="85.8" height="8.0" fill="#1a2738" rx="4.0"/>
<rect x="760.0" y="760.8" width="61.8" height="2.2" fill="#2c3b4b" rx="1"/>
<rect x="750.5" y="773.1" width="87.4" height="8.0" fill="#1a2738" rx="4.0"/>
<rect x="760.5" y="774.6" width="63.4" height="2.2" fill="#2c3b4b" rx="1"/>
<rect x="751.1" y="786.9" width="89.1" height="8.0" fill="#1a2738" rx="4.0"/>
<rect x="761.1" y="788.4" width="65.1" height="2.2" fill="#2c3b4b" rx="1"/>
<rect x="752.2" y="800.7" width="90.0" height="8.0" fill="#1a2738" rx="4.0"/>
<rect x="762.2" y="802.2" width="66.0" height="2.2" fill="#2c3b4b" rx="1"/>
<rect x="753.4" y="814.5" width="90.9" height="8.0" fill="#1a2738" rx="4.0"/>
<rect x="763.4" y="816.0" width="66.9" height="2.2" fill="#2c3b4b" rx="1"/>
<rect x="754.5" y="828.3" width="91.7" height="8.0" fill="#1a2738" rx="4.0"/>
<rect x="764.5" y="829.8" width="67.7" height="2.2" fill="#2c3b4b" rx="1"/>
<rect x="755.7" y="842.2" width="91.9" height="8.0" fill="#1a2738" rx="4.0"/>
<rect x="765.7" y="843.7" width="67.9" height="2.2" fill="#2c3b4b" rx="1"/>
<rect x="758.0" y="856.0" width="91.0" height="8.0" fill="#1a2738" rx="4.0"/>
<rect x="768.0" y="857.5" width="67.0" height="2.2" fill="#2c3b4b" rx="1"/>
<rect x="760.8" y="869.8" width="89.6" height="8.0" fill="#1a2738" rx="4.0"/>
<rect x="770.8" y="871.3" width="65.6" height="2.2" fill="#2c3b4b" rx="1"/>
<rect x="763.4" y="883.9" width="88.4" height="8.7" fill="#1a2738" rx="4.4"/>
<rect x="773.4" y="885.4" width="64.4" height="2.2" fill="#2c3b4b" rx="1"/>
<rect x="766.0" y="899.0" width="87.4" height="8.7" fill="#1a2738" rx="4.4"/>
<rect x="776.0" y="900.5" width="63.4" height="2.2" fill="#2c3b4b" rx="1"/>
<rect x="768.5" y="914.0" width="86.3" height="8.7" fill="#1a2738" rx="4.4"/>
<rect x="778.5" y="915.5" width="62.3" height="2.2" fill="#2c3b4b" rx="1"/>
<rect x="771.1" y="929.1" width="85.2" height="8.7" fill="#1a2738" rx="4.4"/>
<rect x="781.1" y="930.6" width="61.2" height="2.2" fill="#2c3b4b" rx="1"/>
<rect x="773.7" y="944.2" width="84.2" height="8.7" fill="#1a2738" rx="4.4"/>
<rect x="783.7" y="945.7" width="60.2" height="2.2" fill="#2c3b4b" rx="1"/>
<rect x="776.2" y="959.3" width="82.1" height="8.7" fill="#1a2738" rx="4.4"/>
<rect x="786.2" y="960.8" width="58.1" height="2.2" fill="#2c3b4b" rx="1"/>
<rect x="778.7" y="974.4" width="79.9" height="8.7" fill="#1a2738" rx="4.4"/>
<rect x="788.7" y="975.9" width="55.9" height="2.2" fill="#2c3b4b" rx="1"/>
<rect x="781.3" y="989.6" width="77.7" height="9.0" fill="#1a2738" rx="4.5"/>
<rect x="791.3" y="991.1" width="53.7" height="2.2" fill="#2c3b4b" rx="1"/>
<rect x="783.9" y="1005.2" width="75.5" height="9.0" fill="#1a2738" rx="4.5"/>
<rect x="793.9" y="1006.7" width="51.5" height="2.2" fill="#2c3b4b" rx="1"/>
<rect x="786.5" y="1020.8" width="73.2" height="9.0" fill="#1a2738" rx="4.5"/>
<rect x="796.5" y="1022.3" width="49.2" height="2.2" fill="#2c3b4b" rx="1"/>
<rect x="788.6" y="1036.4" width="71.4" height="9.0" fill="#1a2738" rx="4.5"/>
<rect x="798.6" y="1037.9" width="47.4" height="2.2" fill="#2c3b4b" rx="1"/>
<rect x="790.7" y="1052.0" width="69.3" height="9.2" fill="#1a2738" rx="4.6"/>
<rect x="800.7" y="1053.5" width="45.3" height="2.2" fill="#2c3b4b" rx="1"/>
<rect x="792.8" y="1067.8" width="67.2" height="9.2" fill="#1a2738" rx="4.6"/>
<rect x="802.8" y="1069.3" width="43.2" height="2.2" fill="#2c3b4b" rx="1"/>
<rect x="794.9" y="1083.7" width="65.1" height="9.2" fill="#1a2738" rx="4.6"/>
<rect x="804.9" y="1085.2" width="41.1" height="2.2" fill="#2c3b4b" rx="1"/>
<rect x="797.0" y="1099.5" width="62.9" height="9.2" fill="#1a2738" rx="4.6"/>
<rect x="807.0" y="1101.0" width="38.9" height="2.2" fill="#2c3b4b" rx="1"/>
<rect x="798.8" y="1115.5" width="60.8" height="9.6" fill="#1a2738" rx="4.8"/>
<rect x="808.8" y="1117.0" width="36.8" height="2.2" fill="#2c3b4b" rx="1"/>
<rect x="799.9" y="1132.1" width="59.4" height="9.6" fill="#1a2738" rx="4.8"/>
<rect x="809.9" y="1133.6" width="35.4" height="2.2" fill="#2c3b4b" rx="1"/>
<rect x="801.0" y="1148.7" width="57.9" height="9.6" fill="#1a2738" rx="4.8"/>
<rect x="811.0" y="1150.2" width="33.9" height="2.2" fill="#2c3b4b" rx="1"/>
<rect x="802.1" y="1165.2" width="56.5" height="9.6" fill="#1a2738" rx="4.8"/>
<rect x="812.1" y="1166.7" width="32.5" height="2.2" fill="#2c3b4b" rx="1"/>
<rect x="803.2" y="1181.8" width="55.0" height="9.6" fill="#1a2738" rx="4.8"/>
<rect x="813.2" y="1183.3" width="31.0" height="2.2" fill="#2c3b4b" rx="1"/>
<rect x="804.3" y="1198.4" width="53.5" height="9.6" fill="#1a2738" rx="4.8"/>
<rect x="814.3" y="1199.9" width="29.5" height="2.2" fill="#2c3b4b" rx="1"/>
<rect x="804.5" y="1215.0" width="52.0" height="9.6" fill="#1a2738" rx="4.8"/>
<rect x="814.5" y="1216.5" width="28.0" height="2.2" fill="#2c3b4b" rx="1"/>
<rect x="804.7" y="1231.6" width="50.6" height="9.6" fill="#1a2738" rx="4.8"/>
<rect x="814.7" y="1233.1" width="26.6" height="2.2" fill="#2c3b4b" rx="1"/>
<rect x="804.9" y="1248.2" width="49.1" height="9.6" fill="#1a2738" rx="4.8"/>
<rect x="814.9" y="1249.7" width="25.1" height="2.2" fill="#2c3b4b" rx="1"/>
<rect x="805.1" y="1264.8" width="47.7" height="9.6" fill="#1a2738" rx="4.8"/>
<rect x="815.1" y="1266.3" width="23.7" height="2.2" fill="#2c3b4b" rx="1"/>
<rect x="805.3" y="1281.4" width="46.1" height="9.6" fill="#1a2738" rx="4.8"/>
<rect x="815.3" y="1282.9" width="22.1" height="2.2" fill="#2c3b4b" rx="1"/>
<rect x="805.5" y="1298.0" width="44.2" height="9.6" fill="#1a2738" rx="4.8"/>
<rect x="815.5" y="1299.5" width="20.2" height="2.2" fill="#2c3b4b" rx="1"/>
<rect x="805.7" y="1314.5" width="42.4" height="9.6" fill="#1a2738" rx="4.8"/>
<rect x="815.7" y="1316.0" width="18.4" height="2.2" fill="#2c3b4b" rx="1"/>
<rect x="805.6" y="1331.1" width="40.0" height="9.6" fill="#1a2738" rx="4.8"/>
<rect x="815.6" y="1332.6" width="16.0" height="2.2" fill="#2c3b4b" rx="1"/>
<rect x="805.4" y="1347.7" width="37.5" height="9.6" fill="#1a2738" rx="4.8"/>
<rect x="815.4" y="1349.2" width="13.5" height="2.2" fill="#2c3b4b" rx="1"/>
<rect x="805.3" y="1364.3" width="34.7" height="9.6" fill="#1a2738" rx="4.8"/>
<rect x="815.3" y="1365.8" width="10.7" height="2.2" fill="#2c3b4b" rx="1"/>
<rect x="805.1" y="1380.9" width="31.6" height="9.6" fill="#1a2738" rx="4.8"/>
<rect x="815.1" y="1382.4" width="7.6" height="2.2" fill="#2c3b4b" rx="1"/>
<rect x="804.9" y="1397.5" width="28.5" height="9.6" fill="#1a2738" rx="4.8"/>
<rect x="814.9" y="1399.0" width="4.5" height="2.2" fill="#2c3b4b" rx="1"/>
<rect x="804.1" y="1414.1" width="26.0" height="9.6" fill="#1a2738" rx="4.8"/>
<rect x="814.1" y="1415.6" width="2.0" height="2.2" fill="#2c3b4b" rx="1"/>
<rect x="803.2" y="1430.7" width="21.2" height="9.6" fill="#1a2738" rx="4.8"/>
<rect x="813.2" y="1432.2" width="0.0" height="2.2" fill="#2c3b4b" rx="1"/>
<rect x="802.1" y="1447.2" width="13.0" height="9.6" fill="#1a2738" rx="4.8"/>
<rect x="812.1" y="1448.7" width="0.0" height="2.2" fill="#2c3b4b" rx="1"/>
<path d="M810.0,628.8 L802.0,630.2 Q799.0,632.0 802.0,633.8 L810.0,635.2 Z" fill="#e2e2df"/>
<path d="M814.9,642.6 L806.9,644.1 Q803.9,645.8 806.9,647.6 L814.9,649.1 Z" fill="#e2e2df"/>
<path d="M818.3,656.4 L810.3,657.9 Q807.3,659.6 810.3,661.4 L818.3,662.9 Z" fill="#e2e2df"/>
<path d="M821.7,670.2 L813.7,671.7 Q810.7,673.5 813.7,675.2 L821.7,676.7 Z" fill="#e2e2df"/>
<path d="M824.7,684.0 L816.7,685.5 Q813.7,687.3 816.7,689.0 L824.7,690.5 Z" fill="#e2e2df"/>
<path d="M827.6,697.8 L819.6,699.3 Q816.6,701.1 819.6,702.8 L827.6,704.3 Z" fill="#e2e2df"/>
<path d="M830.0,711.6 L822.0,713.1 Q819.0,714.9 822.0,716.6 L830.0,718.1 Z" fill="#e2e2df"/>
<path d="M832.3,725.5 L824.3,727.0 Q821.3,728.7 824.3,730.5 L832.3,732.0 Z" fill="#e2e2df"/>
<path d="M834.5,739.3 L826.5,740.8 Q823.5,742.5 826.5,744.3 L834.5,745.8 Z" fill="#e2e2df"/>
<path d="M836.7,753.1 L828.7,754.6 Q825.7,756.4 828.7,758.1 L836.7,759.6 Z" fill="#e2e2df"/>
<path d="M838.9,766.9 L830.9,768.4 Q827.9,770.2 830.9,771.9 L838.9,773.4 Z" fill="#e2e2df"/>
<path d="M841.0,780.7 L833.0,782.2 Q830.0,784.0 833.0,785.7 L841.0,787.2 Z" fill="#e2e2df"/>
<path d="M843.2,794.6 L835.2,796.1 Q832.2,797.8 835.2,799.6 L843.2,801.1 Z" fill="#e2e2df"/>
<path d="M845.2,808.4 L837.2,809.9 Q834.2,811.6 837.2,813.4 L845.2,814.9 Z" fill="#e2e2df"/>
<path d="M847.3,822.2 L839.3,823.7 Q836.3,825.4 839.3,827.2 L847.3,828.7 Z" fill="#e2e2df"/>
<path d="M848.9,836.0 L840.9,837.5 Q837.9,839.2 840.9,841.0 L848.9,842.5 Z" fill="#e2e2df"/>
<path d="M850.3,849.8 L842.3,851.3 Q839.3,853.1 842.3,854.8 L850.3,856.3 Z" fill="#e2e2df"/>
<path d="M851.7,863.6 L843.7,865.1 Q840.7,866.9 843.7,868.6 L851.7,870.1 Z" fill="#e2e2df"/>
<path d="M853.1,877.4 L845.1,878.9 Q842.1,880.7 845.1,882.5 L853.1,884.0 Z" fill="#e2e2df"/>
<path d="M854.6,892.5 L846.2,894.0 Q843.2,895.8 846.2,897.6 L854.6,899.1 Z" fill="#e2e2df"/>
<path d="M856.1,907.5 L847.3,909.0 Q844.3,910.9 847.3,912.8 L856.1,914.3 Z" fill="#e2e2df"/>
<path d="M857.6,922.5 L848.5,924.0 Q845.5,926.0 848.5,927.9 L857.6,929.4 Z" fill="#e2e2df"/>
<path d="M859.1,937.5 L849.6,939.0 Q846.6,941.0 849.6,943.1 L859.1,944.6 Z" fill="#e2e2df"/>
<path d="M860.1,952.5 L850.3,954.0 Q847.3,956.1 850.3,958.3 L860.1,959.8 Z" fill="#e2e2df"/>
<path d="M860.5,967.5 L850.3,969.0 Q847.3,971.2 850.3,973.4 L860.5,974.9 Z" fill="#e2e2df"/>
<path d="M860.8,982.5 L850.3,984.0 Q847.3,986.3 850.3,988.6 L860.8,990.1 Z" fill="#e2e2df"/>
<path d="M861.2,998.0 L850.2,999.5 Q847.2,1001.9 850.2,1004.3 L861.2,1005.8 Z" fill="#e2e2df"/>
<path d="M861.5,1013.6 L850.2,1015.1 Q847.2,1017.5 850.2,1019.9 L861.5,1021.4 Z" fill="#d2d2cf"/>
<path d="M861.8,1029.1 L850.2,1030.6 Q847.2,1033.1 850.2,1035.6 L861.8,1037.1 Z" fill="#d2d2cf"/>
<path d="M862.0,1044.6 L850.0,1046.1 Q847.0,1048.7 850.0,1051.3 L862.0,1052.8 Z" fill="#d2d2cf"/>
<path d="M862.0,1060.4 L849.6,1061.9 Q846.6,1064.5 849.6,1067.2 L862.0,1068.7 Z" fill="#d2d2cf"/>
<path d="M862.0,1076.1 L849.2,1077.6 Q846.2,1080.3 849.2,1083.1 L862.0,1084.6 Z" fill="#d2d2cf"/>
<path d="M862.0,1091.8 L848.8,1093.3 Q845.8,1096.2 848.8,1099.0 L862.0,1100.5 Z" fill="#d2d2cf"/>
<path d="M861.8,1107.6 L848.2,1109.1 Q845.2,1112.0 848.2,1114.9 L861.8,1116.4 Z" fill="#d2d2cf"/>
<path d="M861.4,1124.1 L847.5,1125.6 Q844.5,1128.6 847.5,1131.6 L861.4,1133.1 Z" fill="#d2d2cf"/>
<path d="M861.1,1140.7 L847.1,1142.2 Q844.1,1145.2 847.1,1148.2 L861.1,1149.7 Z" fill="#d2d2cf"/>
<path d="M860.8,1157.3 L846.8,1158.8 Q843.8,1161.8 846.8,1164.8 L860.8,1166.3 Z" fill="#d2d2cf"/>
<path d="M860.4,1173.9 L846.4,1175.4 Q843.4,1178.4 846.4,1181.4 L860.4,1182.9 Z" fill="#d2d2cf"/>
<path d="M860.1,1190.4 L846.1,1191.9 Q843.1,1194.9 846.1,1197.9 L860.1,1199.4 Z" fill="#d2d2cf"/>
<path d="M859.1,1207.0 L845.1,1208.5 Q842.1,1211.5 845.1,1214.5 L859.1,1216.0 Z" fill="#d2d2cf"/>
<path d="M857.9,1223.6 L843.9,1225.1 Q840.9,1228.1 843.9,1231.1 L857.9,1232.6 Z" fill="#d2d2cf"/>
<path d="M856.6,1240.2 L842.6,1241.7 Q839.6,1244.7 842.6,1247.7 L856.6,1249.2 Z" fill="#d2d2cf"/>
<path d="M855.4,1256.8 L841.4,1258.3 Q838.4,1261.3 841.4,1264.3 L855.4,1265.8 Z" fill="#d2d2cf"/>
<path d="M854.2,1273.4 L840.2,1274.9 Q837.2,1277.9 840.2,1280.9 L854.2,1282.4 Z" fill="#d2d2cf"/>
<path d="M852.6,1290.0 L838.6,1291.5 Q835.6,1294.5 838.6,1297.5 L852.6,1299.0 Z" fill="#d2d2cf"/>
<path d="M850.9,1306.6 L836.9,1308.1 Q833.9,1311.1 836.9,1314.1 L850.9,1315.6 Z" fill="#d2d2cf"/>
<path d="M848.8,1323.1 L834.8,1324.6 Q831.8,1327.6 834.8,1330.6 L848.8,1332.1 Z" fill="#d2d2cf"/>
<path d="M846.2,1339.7 L832.2,1341.2 Q829.2,1344.2 832.2,1347.2 L846.2,1348.7 Z" fill="#d2d2cf"/>
<path d="M843.6,1356.3 L829.6,1357.8 Q826.6,1360.8 829.6,1363.8 L843.6,1365.3 Z" fill="#d2d2cf"/>
<path d="M840.3,1372.9 L826.3,1374.4 Q823.3,1377.4 826.3,1380.4 L840.3,1381.9 Z" fill="#d2d2cf"/>
<path d="M837.0,1389.5 L823.0,1391.0 Q820.0,1394.0 823.0,1397.0 L837.0,1398.5 Z" fill="#d2d2cf"/>
<path d="M833.7,1406.1 L819.7,1407.6 Q816.7,1410.6 819.7,1413.6 L833.7,1415.1 Z" fill="#d2d2cf"/>
<path d="M830.4,1422.7 L816.4,1424.2 Q813.4,1427.2 816.4,1430.2 L830.4,1431.7 Z" fill="#d2d2cf"/>
<path d="M821.9,1439.3 L807.9,1440.8 Q804.9,1443.8 807.9,1446.8 L821.9,1448.3 Z" fill="#d2d2cf"/>
<path d="M792.8,610.4 C790.7,612.8 784.3,619.2 780.0,624.8 C775.7,630.4 770.9,636.5 767.2,644.0 C763.5,651.5 760.5,660.5 757.6,669.6 C754.7,678.7 751.7,687.2 749.6,698.4 C747.5,709.6 745.4,721.7 745.0,737.0 C744.6,752.3 745.8,771.2 747.0,790.0 C748.2,808.8 750.2,835.0 752.0,850.0 C753.8,865.0 755.3,865.2 758.0,880.0 C760.7,894.8 763.9,914.2 768.0,938.7 C772.1,963.2 778.3,997.4 782.7,1026.7 C787.1,1056.0 791.5,1085.4 794.4,1114.7 C797.3,1144.0 799.1,1168.5 800.3,1202.7 C801.5,1236.9 801.6,1287.1 801.7,1320.0 C801.8,1352.9 801.5,1380.0 801.0,1400.0 C800.5,1420.0 799.6,1429.3 799.0,1440.0 C798.4,1450.7 798.5,1457.2 797.3,1464.0 C796.0,1470.8 792.5,1477.8 791.5,1480.5" fill="none" stroke="#162231" stroke-width="14"/>
<path d="M792.8,610.4 C790.7,612.8 784.3,619.2 780.0,624.8 C775.7,630.4 770.9,636.5 767.2,644.0 C763.5,651.5 760.5,660.5 757.6,669.6 C754.7,678.7 751.7,687.2 749.6,698.4 C747.5,709.6 745.4,721.7 745.0,737.0 C744.6,752.3 745.8,771.2 747.0,790.0 C748.2,808.8 750.2,835.0 752.0,850.0 C753.8,865.0 755.3,865.2 758.0,880.0 C760.7,894.8 763.9,914.2 768.0,938.7 C772.1,963.2 778.3,997.4 782.7,1026.7 C787.1,1056.0 791.5,1085.4 794.4,1114.7 C797.3,1144.0 799.1,1168.5 800.3,1202.7 C801.5,1236.9 801.6,1287.1 801.7,1320.0 C801.8,1352.9 801.5,1380.0 801.0,1400.0 C800.5,1420.0 799.6,1429.3 799.0,1440.0 C798.4,1450.7 798.5,1457.2 797.3,1464.0 C796.0,1470.8 792.5,1477.8 791.5,1480.5" fill="none" stroke="#0a0f16" stroke-width="3"/></g>

  <!-- dog on handle -->
  <g id="hdog">
    <path d="M688.6,564.6 L705,570.5 Q716,568.5 728,571 L745.4,566.6 Q746.5,580 744.8,590 Q743.5,602 738.5,610 L734.2,614.2 L733.5,634 L715,625.4 L699.8,634 L698.5,614.2 Q692,609 689.8,600 Q688.5,586 690.3,576 Z" fill="#0a0606"/>
    <path d="M741.5,612.5 L755,630.7 L743.5,644.5 L739.8,616 Z" fill="#0a0606"/>
    <path d="M698,631 L693.5,641.5" stroke="#0a0606" stroke-width="2.4"/>
    <path d="M708.2,596 L708.4,580 Q709,573.5 715.8,573.5 Q722.8,573.5 723.4,580 L724,596 Q729.5,600 728.4,609 Q727,618.5 716,618.5 Q704.5,618.5 703.6,609 Q702.8,600 708.2,596 Z" fill="#e20000"/>
    <path d="M711.8,599.3 Q716,597.5 720.3,599.3 L716.5,603 L716.5,608 M710,609 Q716,612 722,609" stroke="#0a0606" stroke-width="2" fill="none"/>
    <path d="M711.8,599 L720.3,599 L716,603.5 Z" fill="#0a0606"/>
    <path d="M695.5,592.5 Q700,589.5 704.5,592.5 M727.5,592.5 Q732,589.5 736.5,592.5" stroke="#e20000" stroke-width="1.6" fill="none"/>
  </g>
  <!-- lock -->
  <path d="M606,838 Q586,815 586,780 L587,744 A59.5,54.5 0 0 1 706,744 L708,766" fill="none" stroke="#5a0000" stroke-width="6" opacity="0.55"/>
  <path d="M592,744 L592,800 Q600,832 664,831 Q700,828 703,800 L703,744 Z" fill="#0b0f15"/>
  <path d="M640,818 Q670,826 700,806" stroke="#3a2a30" stroke-width="2" fill="none"/>
  <ellipse cx="646.5" cy="744" rx="56" ry="50" fill="#19212b"/>
  <ellipse cx="646" cy="766" rx="33" ry="23.5" fill="#38424d" stroke="#0a0e13" stroke-width="2"/>
  <ellipse cx="648.4" cy="713" rx="15.3" ry="11" fill="#38424d" stroke="#0a0e13" stroke-width="2"/>
  <ellipse cx="615.5" cy="730" rx="14" ry="13" fill="#38424d" stroke="#0a0e13" stroke-width="2" transform="rotate(-20 615.5 730)"/>
  <ellipse cx="677.7" cy="734.7" rx="13.3" ry="13.3" fill="#38424d" stroke="#0a0e13" stroke-width="2"/>
  <!-- latch + left piece in front of lock -->
  <path d="M597,784 L622,790 L621,812 Q616,821 606,819 Q599,812 598,800 Z" fill="#050608"/>
  <path d="M590,808 Q598,828 614,836 L634.7,848 L634.7,806 L622,801 L621,814 Q616,824 605,821 Q596,816 590,800 Z" fill="#e00000"/>
  <path d="M625,812 Q630,818 628,828" stroke="#ff7a6a" stroke-width="2" fill="none"/>
</g>
<!-- dashed connectors -->
<g fill="none" stroke="#111" stroke-width="2.6" stroke-dasharray="10 9">
  <path d="M676,304 H232 V548"/>
  <path d="M798,325 H1070"/>
  <path d="M732,437 H1051 V688"/>
  <path d="M573,753 H134 V831"/>
  <path d="M427,1061 H147 V1108"/>
</g>
<g fill="#111">
  <path d="M218,549 L232,559 L246,549 L232,575 Z"/>
  <path d="M1068,312 L1078,325 L1068,338 L1093,325 Z"/>
  <path d="M1037,689 L1051,699 L1065,689 L1051,715 Z"/>
  <path d="M120,832 L134,842 L148,832 L134,858 Z"/>
  <path d="M133,1109 L147,1119 L161,1109 L147,1135 Z"/>
</g>

<!-- logo -->
<g id="logo">
  <path d="M1247.3,1369.0 1255.6,1375.5 1263.9,1385.0 1269.2,1387.9 1265.7,1392.1 1264.5,1399.2 1262.7,1406.2 1259.7,1413.9 1255.6,1419.3 1252.6,1408.6 1249.7,1390.9 Z" fill="#1b1718"/>
  <path d="M1301.1,1370.2 1302.0,1380.2 1299.4,1394.4 1296.1,1408.6 1293.5,1416.9 1289.9,1422.8 1283.4,1416.9 1280.7,1407.4 1280.4,1396.8 1281.6,1388.5 1289.9,1379.0 Z" fill="#1b1718"/>
  <path d="M1264,1425 Q1266,1410 1271.5,1407.5 Q1278,1408 1281.5,1425 Q1273,1422 1264,1425 Z" fill="#5c5a5b"/>
  <circle cx="1271.3" cy="1412.5" r="5" fill="#141213"/>
  <circle cx="1258.5" cy="1405" r="2.2" fill="#eee"/><circle cx="1286.5" cy="1405.5" r="2.2" fill="#eee"/>
  <path d="M1253.8,1427.5 L1271,1434.6 L1291.1,1427.8 L1288.5,1446.5 L1271,1437 L1255,1444 Z" fill="#d91c1c"/>
  <path d="M1252.5,1446 L1250,1455" stroke="#1b1718" stroke-width="2"/>
  <path d="M1297,1421.6 Q1311,1432 1311.2,1444 Q1308,1452 1300.6,1454.8 Q1300,1440 1299.4,1428.7 Z" fill="#1b1718"/>
  <text x="1203.5" y="1493" font-family="Liberation Serif" font-style="italic" font-size="25" fill="#1a1a1a" textLength="155" lengthAdjust="spacingAndGlyphs">Warren London</text>
</g>
</svg>
</body></html>
